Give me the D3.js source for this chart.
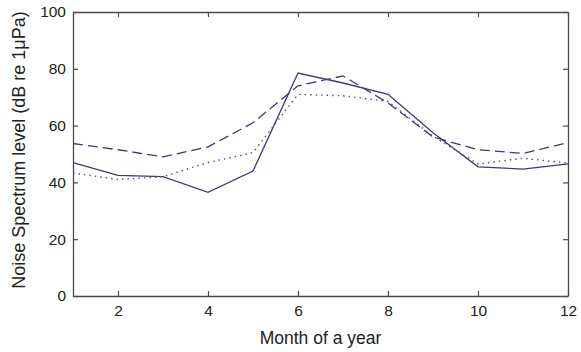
<!DOCTYPE html>
<html>
<head>
<meta charset="utf-8">
<script src="https://cdn.jsdelivr.net/npm/d3@7"></script>
<style>
  html, body { margin: 0; padding: 0; background: #fff; }
  svg { display: block; }
  text { font-family: "Liberation Sans", Arial, sans-serif; fill: #222; }
</style>
</head>
<body>
<svg id="chart" width="581" height="352"></svg>
<script>
// Monthly noise spectrum levels (dB re 1 µPa), three series
const months = [1, 2, 3, 4, 5, 6, 7, 8, 9, 10, 11, 12];
const solidSeries  = [47, 42.5, 42, 36.5, 44, 78.5, 75, 71, 57.5, 45.5, 44.7, 46.5];
const dashedSeries = [53.7, 51.5, 49, 52.5, 61, 74, 77.5, 68, 56, 51.5, 50.2, 54];
const dottedSeries = [43.3, 41, 42, 47, 50.5, 71, 70.5, 68.5, 56.3, 46.5, 48.5, 46.8];
const xTicks = [2, 4, 6, 8, 10, 12];
const yTicks = [0, 20, 40, 60, 80, 100];

const margin = { left: 73, right: 13, top: 12, bottom: 56 };
const W = 581, H = 352;
const svg = d3.select("#chart");

const x = d3.scaleLinear().domain([1, 12]).range([margin.left, W - margin.right]);
const y = d3.scaleLinear().domain([0, 100]).range([H - margin.bottom, margin.top]);

const axisColor = "#4a4a4a";
const lineColor = "#3a3a74";

// Axes with inward ticks on all four sides
const axisBottomG = svg.append("g").attr("transform", `translate(0,${y(0)})`)
  .call(d3.axisBottom(x).tickValues(xTicks).tickSizeInner(-5).tickSizeOuter(0).tickPadding(9).tickFormat(d3.format("d")));
const axisTopG = svg.append("g").attr("transform", `translate(0,${y(100)})`)
  .call(d3.axisTop(x).tickValues(xTicks).tickSizeInner(-5).tickSizeOuter(0).tickFormat(""));
const axisLeftG = svg.append("g").attr("transform", `translate(${x(1)},0)`)
  .call(d3.axisLeft(y).tickValues(yTicks).tickSizeInner(-5).tickSizeOuter(0).tickPadding(7).tickFormat(d3.format("d")));
const axisRightG = svg.append("g").attr("transform", `translate(${x(12)},0)`)
  .call(d3.axisRight(y).tickValues(yTicks).tickSizeInner(-5).tickSizeOuter(0).tickFormat(""));

[axisBottomG, axisTopG, axisLeftG, axisRightG].forEach(g => {
  g.select(".domain").attr("stroke", axisColor).attr("stroke-width", 1.3);
  g.selectAll(".tick line").attr("stroke", axisColor).attr("stroke-width", 1.2);
  g.selectAll(".tick text").attr("font-size", 15.5).attr("fill", "#222")
    .attr("font-family", "'Liberation Sans', Arial, sans-serif");
});

// Series lines
const line = d3.line().x((d, i) => x(months[i])).y(d => y(d));

svg.append("path").datum(solidSeries)
  .attr("d", line).attr("fill", "none")
  .attr("stroke", lineColor).attr("stroke-width", 1.3);

svg.append("path").datum(dashedSeries)
  .attr("d", line).attr("fill", "none")
  .attr("stroke", lineColor).attr("stroke-width", 1.3)
  .attr("stroke-dasharray", "10,5");

svg.append("path").datum(dottedSeries)
  .attr("d", line).attr("fill", "none")
  .attr("stroke", "#555577").attr("stroke-width", 1.4)
  .attr("stroke-dasharray", "1.5,4");

// Axis titles
svg.append("text")
  .attr("x", (x(1) + x(12)) / 2).attr("y", 344)
  .attr("text-anchor", "middle").attr("font-size", 17.5)
  .text("Month of a year");

svg.append("text")
  .attr("transform", `translate(25,150) rotate(-90)`)
  .attr("text-anchor", "middle").attr("font-size", 18)
  .text("Noise Spectrum level (dB re 1\u03bcPa)");
</script>
</body>
</html>
